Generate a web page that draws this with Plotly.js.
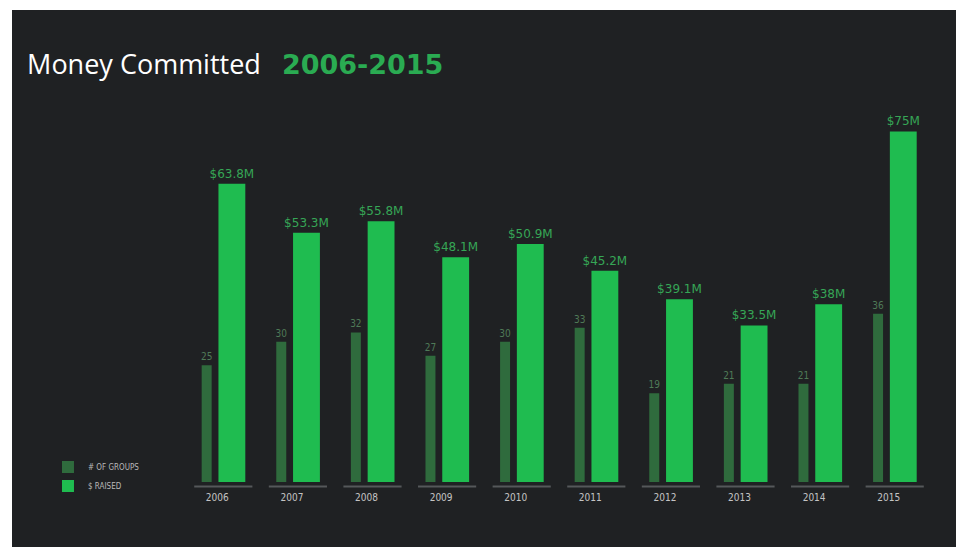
<!DOCTYPE html>
<html>
<head>
<meta charset="utf-8">
<script src="https://cdn.plot.ly/plotly-3.0.1.min.js"></script>
<style>
  html, body { margin: 0; padding: 0; background: #ffffff; width: 956px; height: 547px; overflow: hidden; }
  #chart { position: absolute; left: 12px; top: 10px; width: 944px; height: 537px; }
</style>
</head>
<body>
<div id="chart"></div>
<script>
const years = ['2006','2007','2008','2009','2010','2011','2012','2013','2014','2015'];
const groupCounts = [25, 30, 32, 27, 30, 33, 19, 21, 21, 36];
const raisedMillions = [63.8, 53.3, 55.8, 48.1, 50.9, 45.2, 39.1, 33.5, 38, 75];
const raisedLabels = ['$63.8M','$53.3M','$55.8M','$48.1M','$50.9M','$45.2M','$39.1M','$33.5M','$38M','$75M'];
const seriesNames = ['# OF GROUPS', '$ RAISED'];

const bg = '#1f2123';
const darkGreen = '#2f6b3d';
const brightGreen = '#1fbc50';

const traces = [
  {
    type: 'bar', name: seriesNames[0], legendgroup: 'g1',
    x: years, y: groupCounts,
    text: groupCounts.map(String), textposition: 'outside', cliponaxis: false, constraintext: 'none',
    textfont: { family: 'DejaVu Sans Condensed, Lato, sans-serif', size: 10, color: '#4f7a57' },
    marker: { color: darkGreen },
    width: 0.134, offset: -0.29,
    hoverinfo: 'skip'
  },
  {
    type: 'bar', name: seriesNames[1], legendgroup: 'g2',
    x: years, y: raisedMillions,
    text: raisedLabels, textposition: 'outside', cliponaxis: false, constraintext: 'none',
    textfont: { family: 'DejaVu Sans, sans-serif', size: 12, color: '#36a656' },
    marker: { color: brightGreen },
    width: 0.36, offset: -0.065,
    hoverinfo: 'skip'
  }
];

const shapes = years.map((yr, i) => ({
  type: 'line', xref: 'x', yref: 'paper',
  x0: i - 0.39, x1: i + 0.39, y0: -0.012, y1: -0.012,
  line: { color: '#55585a', width: 2 }
}));

const layout = {
  width: 944, height: 537,
  paper_bgcolor: bg, plot_bgcolor: bg,
  margin: { l: 174, r: 24, t: 98, b: 65 },
  barmode: 'overlay',
  showlegend: true,
  legend: {
    x: -0.185, y: 0.015, xanchor: 'left', yanchor: 'middle',
    font: { family: 'DejaVu Sans Condensed, Lato, sans-serif', size: 8, color: '#b8b8b8' },
    bgcolor: 'rgba(0,0,0,0)', tracegroupgap: 17, traceorder: 'normal'
  },
  title: {
    text: 'Money Committed&nbsp;&nbsp; <span style="color:#2aab52;font-family:DejaVu Sans;font-weight:bold;font-size:27px">2006-2015</span>',
    font: { family: 'Open Sans, sans-serif', size: 27, color: '#ffffff' },
    xref: 'container', yref: 'container',
    x: 0.016, xanchor: 'left', y: 0.898, yanchor: 'middle'
  },
  xaxis: {
    type: 'category', range: [-0.5, 9.5],
    showgrid: false, zeroline: false, showline: false, ticks: '',
    tickfont: { family: 'DejaVu Sans Condensed, Lato, sans-serif', size: 10, color: '#c4c4c4' },
    ticklabelshift: -6, ticklabelstandoff: 8
  },
  yaxis: {
    range: [0, 80], showgrid: false, zeroline: false, showline: false,
    showticklabels: false, ticks: ''
  },
  shapes: shapes
};

Plotly.newPlot('chart', traces, layout, { displayModeBar: false, staticPlot: true });
</script>
</body>
</html>
